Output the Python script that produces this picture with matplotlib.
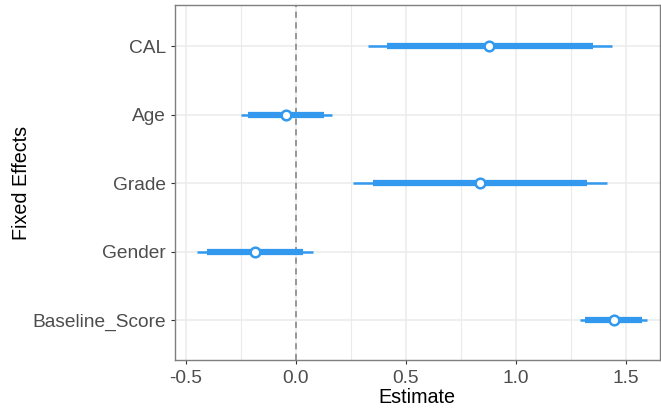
import matplotlib.pyplot as plt
import numpy as np

plt.rcParams['font.family'] = ['Liberation Sans', 'DejaVu Sans']

# Fixed effects, bottom to top
terms = ['Baseline_Score', 'Gender', 'Grade', 'Age', 'CAL']
estimate = [1.444, -0.184, 0.838, -0.044, 0.880]
inner_lo = [1.315, -0.405, 0.353, -0.217, 0.415]
inner_hi = [1.573, 0.035, 1.323, 0.130, 1.350]
outer_lo = [1.292, -0.447, 0.259, -0.250, 0.326]
outer_hi = [1.598, 0.080, 1.416, 0.164, 1.439]

BLUE = '#3399EE'
GRID = '#EBEBEB'
TEXT = '#4D4D4D'

fig = plt.figure(figsize=(6.61, 4.09), dpi=100, facecolor='white')
ax = fig.add_axes([0.264, 0.12, 0.7345, 0.8678])

ypos = np.arange(1, len(terms) + 1)

ax.axvline(0, color='#7F7F7F', linestyle=(0, (4, 3)), linewidth=1.1, zorder=2)
ax.hlines(ypos, outer_lo, outer_hi, color=BLUE, linewidth=1.8, zorder=3)
ax.hlines(ypos, inner_lo, inner_hi, color=BLUE, linewidth=4.5, zorder=3)
ax.scatter(estimate, ypos, s=48, facecolor='white', edgecolor=BLUE, linewidth=1.8, zorder=4)

ax.set_xlim(-0.551, 1.655)
ax.set_ylim(0.42, 5.6)
ax.set_xticks([-0.5, 0.0, 0.5, 1.0, 1.5])
ax.set_xticklabels(['-0.5', '0.0', '0.5', '1.0', '1.5'])
ax.set_xticks([-0.25, 0.25, 0.75, 1.25], minor=True)
ax.set_yticks(ypos)
ax.set_yticklabels(terms)

ax.grid(True, which='major', color=GRID, linewidth=1.1)
ax.grid(True, which='minor', axis='x', color=GRID, linewidth=0.8)
ax.set_axisbelow(True)
ax.tick_params(which='minor', length=0)
ax.tick_params(which='major', length=3, color='#333333', labelsize=13.8, labelcolor=TEXT)
ax.tick_params(axis='x', pad=4)
ax.tick_params(axis='y', pad=3)

for spine in ax.spines.values():
    spine.set_color('#7F7F7F')
    spine.set_linewidth(1.0)

ax.set_xlabel('Estimate', fontsize=14.2, color='black', labelpad=1)
ax.set_ylabel('Fixed Effects', fontsize=14.2, color='black', labelpad=1)

fig.savefig('out.png', dpi=100, facecolor='white')
